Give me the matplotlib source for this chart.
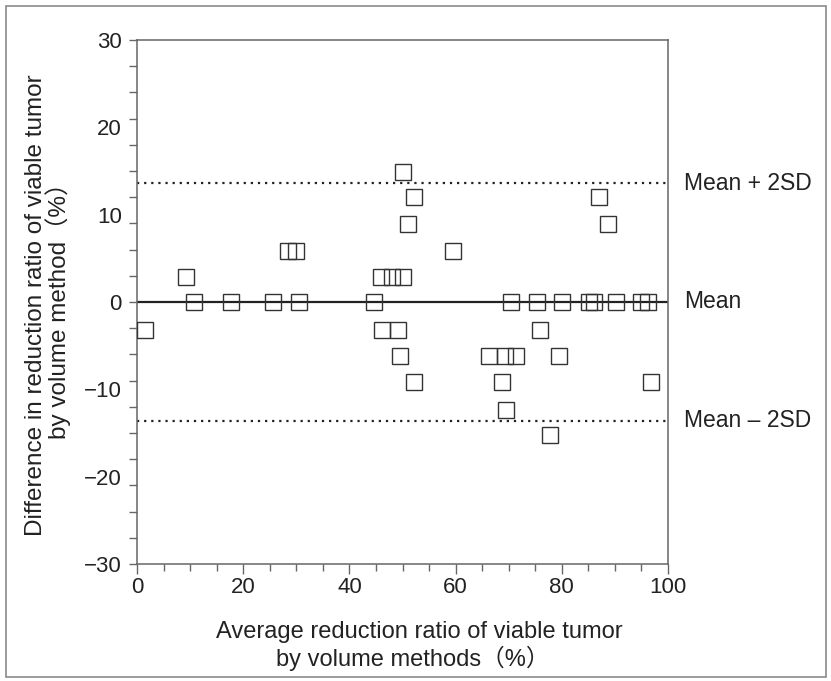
import matplotlib
matplotlib.use("Agg")
import matplotlib.pyplot as plt
from matplotlib.ticker import MultipleLocator
from matplotlib.patches import Rectangle

plt.rcParams['font.family'] = ['Liberation Sans', 'Noto Sans CJK JP', 'DejaVu Sans']

# average reduction ratio (%) and difference (%)
avg_ratio = [1.5, 9.2, 10.8, 17.7, 25.7, 30.6, 28.5, 29.9,
             44.6, 46.0, 48.1, 50.1, 46.2, 49.1, 49.5, 52.1,
             50.0, 52.2, 51.0, 59.6, 66.2, 69.3, 71.3, 68.7,
             69.4, 70.4, 75.3, 75.9, 77.8, 79.4, 80.1, 85.1,
             86.0, 87.0, 88.7, 90.3, 94.9, 96.2, 96.8]
diff_ratio = [-3.2, 2.9, 0, 0, 0, 0, 5.8, 5.8,
              0, 2.9, 2.9, 2.9, -3.2, -3.2, -6.2, -9.2,
              14.9, 12.0, 8.9, 5.8, -6.2, -6.2, -6.2, -9.2,
              -12.4, 0, 0, -3.2, -15.2, -6.2, 0, 0,
              0, 12.0, 8.9, 0, 0, 0, -9.2]

mean_val = 0.0
upper = 13.6
lower = -13.6
ref_labels = ['Mean + 2SD', 'Mean', 'Mean \u2013 2SD']

fig = plt.figure(figsize=(8.31, 6.81), dpi=100)
ax = fig.add_axes([137 / 831, 1 - 564 / 681, 531 / 831, 524 / 681])

# outer frame
fig.patches.append(Rectangle((6 / 831, 4 / 681), 820 / 831, 671 / 681,
                             transform=fig.transFigure, fill=False,
                             edgecolor='#8a8a8a', linewidth=1.2))

ax.axhline(mean_val, color='#222222', linewidth=1.6, zorder=2)
ax.axhline(upper, color='#222222', linewidth=1.6, linestyle=(0, (1, 2.2)), zorder=2)
ax.axhline(lower, color='#222222', linewidth=1.6, linestyle=(0, (1, 2.2)), zorder=2)

ax.plot(avg_ratio, diff_ratio, linestyle='none', marker='s', markersize=11.5,
        markerfacecolor='none', markeredgecolor='#333333', markeredgewidth=1.0,
        zorder=3)

ax.set_xlim(0, 100)
ax.set_ylim(-30, 30)

ax.xaxis.set_major_locator(MultipleLocator(20))
ax.xaxis.set_minor_locator(MultipleLocator(5))
ax.yaxis.set_major_locator(MultipleLocator(10))
ax.yaxis.set_minor_locator(MultipleLocator(3))
ax.yaxis.remove_overlapping_locs = False

ax.tick_params(axis='x', which='major', direction='out', length=7.5, width=1,
               color='#666666', labelsize=16, pad=2, labelcolor='#222222')
ax.tick_params(axis='x', which='minor', direction='out', length=5, width=1,
               color='#666666')
ax.tick_params(axis='y', which='major', direction='out', length=0,
               labelsize=16, pad=11, labelcolor='#222222')
ax.tick_params(axis='y', which='minor', direction='out', length=6, width=1,
               color='#666666')

ax.set_yticklabels([str(int(v)).replace('-', '\u2212') for v in ax.get_yticks()])

for sp in ax.spines.values():
    sp.set_color('#666666')
    sp.set_linewidth(1.1)

for yv, lab in zip([upper, mean_val, lower], ref_labels):
    ax.text(103, yv, lab, fontsize=16.5, color='#222222', va='center', ha='left',
            clip_on=False)

fig.text(419 / 831, 1 - 632 / 681, 'Average reduction ratio of viable tumor',
         fontsize=17, color='#222222', ha='center', va='center')
fig.text(413 / 831, 1 - 658 / 681, 'by volume methods\uff08%\uff09',
         fontsize=17, color='#222222', ha='center', va='center')

fig.text(36 / 831, 1 - 305 / 681, 'Difference in reduction ratio of viable tumor',
         fontsize=17.5, color='#222222', ha='center', va='center', rotation=90)
fig.text(58 / 831, 1 - 305 / 681, 'by volume method\uff08%\uff09',
         fontsize=17.5, color='#222222', ha='center', va='center', rotation=90)

fig.savefig('out.png', dpi=100)
